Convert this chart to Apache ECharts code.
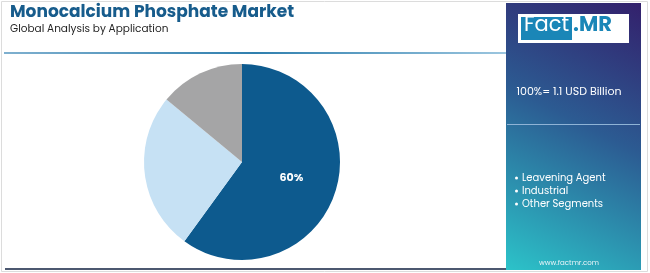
<!DOCTYPE html>
<html><head><meta charset="utf-8">
<script src="https://cdn.jsdelivr.net/npm/echarts@6/dist/echarts.min.js"></script>
<style>html,body{margin:0;padding:0;background:#fff}#c{width:650px;height:273px}</style>
</head><body><div id="c"></div>
<script>
const categories = ['Leavening Agent', 'Industrial', 'Other Segments'];
const shares = [60, 26, 14];
const colors = ['#0d5a8e', '#c6e1f4', '#a5a5a6'];
const titleText = 'Monocalcium Phosphate Market';
const subtitleText = 'Global Analysis by Application';
const totalText = '100%= 1.1 USD Billion';

const chart = echarts.init(document.getElementById('c'), null, {renderer: 'canvas'});
const font = 'Poppins, "Open Sans", Lato, sans-serif';
chart.setOption({
  animation: false,
  backgroundColor: '#fff',
  graphic: [
    {type: 'rect', shape: {x: 1.5, y: 1.5, width: 646, height: 270}, style: {fill: 'none', stroke: '#dcdcdc', lineWidth: 1}},
    {type: 'rect', shape: {x: 4, y: 52, width: 502, height: 2},
      style: {fill: new echarts.graphic.LinearGradient(0, 0, 1, 0, [
        {offset: 0, color: '#7fb0cf'}, {offset: 0.5, color: '#2f7fae'}, {offset: 1, color: '#9cc6df'}])}},
    {type: 'rect', shape: {x: 5, y: 268, width: 501, height: 2}, style: {fill: '#4c5870'}},
    {type: 'rect', shape: {x: 506, y: 3, width: 135, height: 267},
      style: {fill: new echarts.graphic.LinearGradient(1, 0, 0, 1, [
        {offset: 0, color: '#33206c'}, {offset: 0.45, color: '#2c5b92'}, {offset: 1, color: '#2cc3c9'}])}},
    {type: 'rect', shape: {x: 518, y: 14, width: 111, height: 29}, style: {fill: '#ffffff'}},
    {type: 'rect', shape: {x: 521, y: 17, width: 51, height: 23}, style: {fill: '#1a86b7'}},
    {type: 'text', left: 524, top: 15, style: {text: 'Fact', fill: '#ffffff', font: '21px ' + font}},
    {type: 'text', left: 573, top: 15, style: {text: '.MR', fill: '#1a86b7', font: 'bold 21px ' + font}},
    {type: 'text', left: 10, top: 4, style: {text: titleText, fill: '#175c8c', font: 'bold 17px ' + font}},
    {type: 'text', left: 10, top: 24, style: {text: subtitleText, fill: '#222222', font: '10.5px ' + font}},
    {type: 'text', x: 569, y: 92, style: {text: totalText, fill: '#ffffff', font: '11px ' + font, align: 'center', verticalAlign: 'middle'}},
    {type: 'rect', shape: {x: 507, y: 124, width: 133, height: 1}, style: {fill: '#8fb3d6'}},
    {type: 'text', x: 569, y: 263, style: {text: 'www.factmr.com', fill: '#e8f4f8', font: '7px ' + font, align: 'center', verticalAlign: 'middle'}}
  ],
  legend: {
    orient: 'vertical', left: 510, top: 168,
    icon: 'circle', itemWidth: 3, itemHeight: 3, itemGap: 3,
    itemStyle: {color: '#ffffff'},
    textStyle: {color: '#ffffff', fontSize: 10, fontFamily: font, padding: [0, 0, 0, -1]},
    data: categories
  },
  series: [{
    type: 'pie', center: [242, 162], radius: 98, startAngle: 90, clockwise: true,
    avoidLabelOverlap: false,
    data: categories.map((n, i) => ({
      name: n, value: shares[i], itemStyle: {color: colors[i]},
      label: {show: i === 0}
    })),
    label: {position: 'inside', formatter: '{c}%', color: '#ffffff', fontWeight: 'bold', fontSize: 11, fontFamily: font},
    labelLine: {show: false},
    emphasis: {disabled: true}
  }]
});
</script></body></html>
